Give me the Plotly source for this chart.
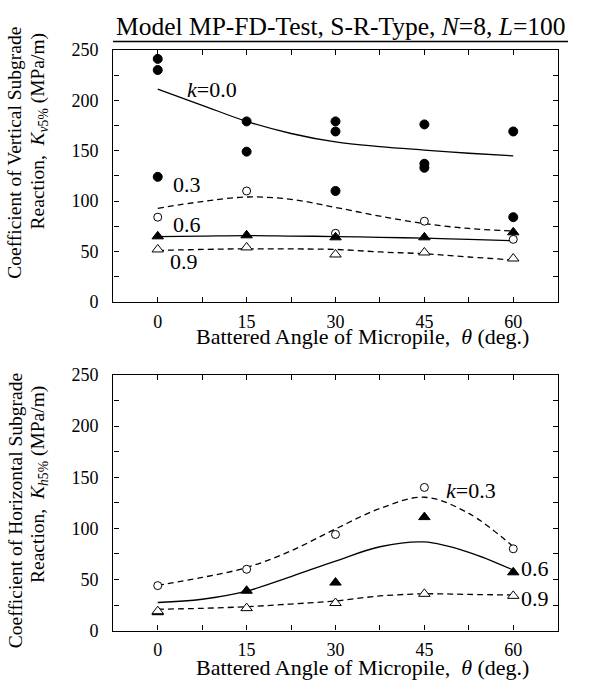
import plotly.graph_objects as go

# ---------------- data ----------------
theta = [0, 15, 30, 45, 60]
curve_x = [0, 7.5, 15, 22.5, 30, 37.5, 45, 52.5, 60]

# top: vertical subgrade reaction Kv5%
kv_00_x = [0, 0, 0, 15, 15, 30, 30, 30, 45, 45, 45, 60, 60]
kv_00_y = [241, 230, 124, 179, 149, 179, 169, 110, 176, 137, 133, 169, 84]
kv_03 = [84, 110, 68, 80, 62]
kv_06 = [65, 66, 64, 64, 69]
kv_09 = [52, 54, 47, 49, 43]
kv_fit_00 = [211, 195, 179, 167, 158.6, 154, 150.6, 147.4, 144.8]
kv_fit_03 = [92.8, 99.5, 104, 101.7, 93.7, 85, 77.6, 72.8, 70.2]
kv_fit_06 = [64.8, 65.3, 65.8, 65.3, 64.8, 64, 63.2, 62, 60.6]
kv_fit_09 = [51, 52, 52.6, 52.5, 52, 49.5, 47.7, 44.5, 41.6]

# bottom: horizontal subgrade reaction Kh5%
kh_03 = [44, 60, 94, 140, 80]
kh_06 = [18, 39, 47, 111, 57]
kh_09 = [19, 22, 27, 36, 34]
kh_fit_03 = [44.3, 52, 61.7, 78, 99.4, 119.4, 130.4, 114.6, 82]
kh_fit_06 = [27.5, 30.7, 38.6, 52.9, 68, 82, 86.7, 76.6, 59.2]
kh_fit_09 = [20.9, 21.8, 23.4, 26, 29, 33.9, 36, 35.4, 34.8]

x_ticks = [0, 15, 30, 45, 60]
x_minor = [7.5, 22.5, 37.5, 52.5]
y_ticks = [0, 50, 100, 150, 200, 250]
y_minor = [25, 75, 125, 175, 225]

# ---------------- figure ----------------
W, H = 591, 696
FONT = "Liberation Serif"
DASH = "6px,4px"
X_RANGE = [-7.5, 67.5]
Y_RANGE = [0, 250]
fig = go.Figure()


def line(xa, ya, fy, dash):
    fig.add_trace(go.Scatter(x=curve_x, y=fy, mode="lines", xaxis=xa, yaxis=ya,
                             line=dict(color="black", width=1.3, dash=dash, shape="spline"),
                             showlegend=False))


def pts(xa, ya, xx, yy, sym, size, filled):
    fig.add_trace(go.Scatter(x=xx, y=yy, mode="markers", xaxis=xa, yaxis=ya,
                             marker=dict(symbol=sym, size=size,
                                         color="black" if filled else "white",
                                         line=dict(color="black", width=1)),
                             showlegend=False))


# top panel
for fy, dash in [(kv_fit_00, "solid"), (kv_fit_03, DASH), (kv_fit_06, "solid"), (kv_fit_09, DASH)]:
    line("x", "y", fy, dash)
pts("x", "y", kv_00_x, kv_00_y, "circle", 9, True)
pts("x", "y", theta, kv_03, "circle", 8, False)
pts("x", "y", theta, kv_06, "triangle-up", 10, True)
pts("x", "y", theta, kv_09, "triangle-up", 10, False)

# bottom panel
for fy, dash in [(kh_fit_03, DASH), (kh_fit_06, "solid"), (kh_fit_09, DASH)]:
    line("x2", "y2", fy, dash)
pts("x2", "y2", theta, kh_03, "circle", 8, False)
pts("x2", "y2", theta, kh_06, "triangle-up", 10, True)
pts("x2", "y2", theta, kh_09, "triangle-up", 10, False)

x_dom = [113.3 / W, 557.7 / W]
top_dom = [1 - 300.5 / H, 1 - 41 / H]
bot_dom = [1 - 639 / H, 1 - 375.7 / H]


def ax(minor_vals, **kw):
    d = dict(showline=True, linecolor="black", linewidth=1.4, mirror="ticks",
             ticks="inside", ticklen=5, tickwidth=1, tickcolor="black",
             minor=dict(tickmode="array", tickvals=minor_vals, ticks="inside",
                        ticklen=5, tickwidth=1, tickcolor="black", showgrid=False),
             showgrid=False, zeroline=False,
             tickfont=dict(family=FONT, size=18, color="black"))
    d.update(kw)
    return d


xcommon = dict(domain=x_dom, range=X_RANGE, tickmode="array", tickvals=x_ticks,
               ticklabelstandoff=3)
ycommon = dict(range=Y_RANGE, tickmode="array", tickvals=y_ticks, ticklabelstandoff=10)

fig.update_layout(
    xaxis=ax(x_minor, anchor="y", **xcommon),
    yaxis=ax(y_minor, anchor="x", domain=top_dom, **ycommon),
    xaxis2=ax(x_minor, anchor="y2", **xcommon),
    yaxis2=ax(y_minor, anchor="x2", domain=bot_dom, **ycommon),
)


def ann(text, x, y, xref="paper", yref="paper", size=19, angle=0, xanchor="center", yanchor="middle"):
    fig.add_annotation(text=text, x=x, y=y, xref=xref, yref=yref, showarrow=False,
                       textangle=angle, xanchor=xanchor, yanchor=yanchor,
                       font=dict(family=FONT, size=size, color="black"))


# title with underline
ann("Model MP-FD-Test, S-R-Type, <i>N</i>=8, <i>L</i>=100", 340.5 / W, 1 - 17 / H, size=25.5)
fig.add_shape(type="line", xref="paper", yref="paper",
              x0=113 / W, x1=568 / W, y0=1 - 32.5 / H, y1=1 - 32.5 / H,
              line=dict(color="black", width=1.6))

# axis titles
xt = "Battered Angle of Micropile,  <i>θ</i> (deg.)"
ann(xt, 362 / W, 1 - 336 / H, size=22)
ann(xt, 362 / W, 1 - 677 / H, size=22)
ann("Coefficient of Vertical Subgrade", 15 / W, 1 - 147 / H, angle=-90, size=19.5)
ann("Reaction,  <i>K</i><sub><i>v</i>5%</sub> (MPa/m)", 39 / W, 1 - 125 / H, angle=-90, size=19.5)
ann("Coefficient of Horizontal Subgrade", 15 / W, 1 - 516 / H, angle=-90, size=19.5)
ann("Reaction,  <i>K</i><sub><i>h</i>5%</sub> (MPa/m)", 39 / W, 1 - 489 / H, angle=-90, size=19.5)

# curve labels
ann("<i>k</i>=0.0", 9.1, 211, xref="x", yref="y", size=22)
ann("0.3", 5, 116, xref="x", yref="y", size=22)
ann("0.6", 5, 77, xref="x", yref="y", size=22)
ann("0.9", 4.5, 40, xref="x", yref="y", size=22)
ann("<i>k</i>=0.3", 52.9, 137, xref="x2", yref="y2", size=22)
ann("0.6", 63.6, 61, xref="x2", yref="y2", size=22)
ann("0.9", 63.6, 31, xref="x2", yref="y2", size=22)

fig.update_layout(width=W, height=H, autosize=False,
                  font=dict(family=FONT, color="black"),
                  margin=dict(l=0, r=0, t=0, b=0),
                  paper_bgcolor="white", plot_bgcolor="white",
                  showlegend=False)

fig.write_html("out.html")
